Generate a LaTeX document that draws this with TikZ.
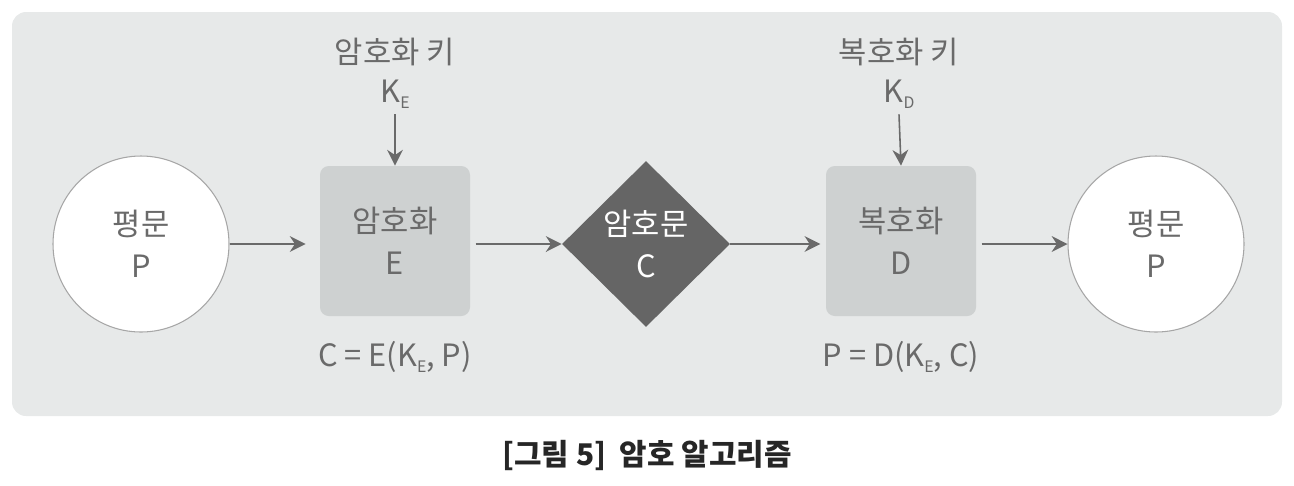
\documentclass[tikz,border=0pt]{standalone}
\usepackage{fontspec}
\setmainfont{Noto Sans CJK KR}
\usetikzlibrary{arrows.meta,shapes.geometric}
\definecolor{panel}{HTML}{E7E9E9}
\definecolor{boxgray}{HTML}{CED1D1}
\definecolor{ink}{HTML}{6A6A6A}
\definecolor{dark}{HTML}{656565}
\newcommand{\sub}[1]{\raisebox{-0.35ex}{\fontsize{9}{9}\selectfont #1}}
\tikzset{
  txt/.style={text=ink, font=\fontsize{17.5}{24}\selectfont, align=center},
  plain/.style={circle, draw=ink!60, line width=0.6pt, fill=white, minimum size=176*0.02cm, inner sep=0pt, txt},
  block/.style={rounded corners=5pt, fill=boxgray, minimum width=150*0.02cm, minimum height=150*0.02cm, inner sep=0pt, txt},
  cipher/.style={diamond, fill=dark, minimum width=168*0.02cm, minimum height=166*0.02cm, inner sep=0pt, txt, text=white},
  flow/.style={draw=ink, line width=0.9pt, -{Stealth[length=9pt, width=9pt]}}
}
\begin{document}
\begin{tikzpicture}[x=0.02cm, y=-0.02cm]
    \useasboundingbox (0,0) rectangle (1294,485);
    \fill[panel, rounded corners=8pt] (12,12) rectangle (1282,416);

    \node[plain] (P1) at (141,244) {평문\\P};
    \node[block] (E) at (395,241) {암호화\\E};
    \node[cipher] (C) at (646,244) {암호문\\C};
    \node[block] (D) at (901,241) {복호화\\D};
    \node[plain] (P2) at (1156,244) {평문\\P};

    \node[txt] (keyE) at (395,52) {암호화 키};
    \node[txt] (KE) at (395,94) {K\sub{E}};
    \node[txt] (keyD) at (899,52) {복호화 키};
    \node[txt] (KD) at (899,94) {K\sub{D}};

    \node[txt] (encE) at (395,357) {C = E(K\sub{E}, P)};
    \node[txt] (decD) at (901,357) {P = D(K\sub{E}, C)};

    \draw[flow] (KE.south) -- (E.north);
    \draw[flow] (KD.south) -- (D.north);
    \draw[flow] (P1.east) -- ([xshift=-8] E.west |- P1.east);
    \draw[flow] ([xshift=3] E.east |- C.west) -- (C.west);
    \draw[flow] (C.east) -- ([xshift=-3] D.west |- C.east);
    \draw[flow] ([xshift=3] D.east |- P2.west) -- (P2.west);

    \node[font=\bfseries\fontsize{17}{24}\selectfont, text=black!85] (cap) at (647,455) {[그림 5]\ \ 암호 알고리즘};
  \end{tikzpicture}
\end{document}
